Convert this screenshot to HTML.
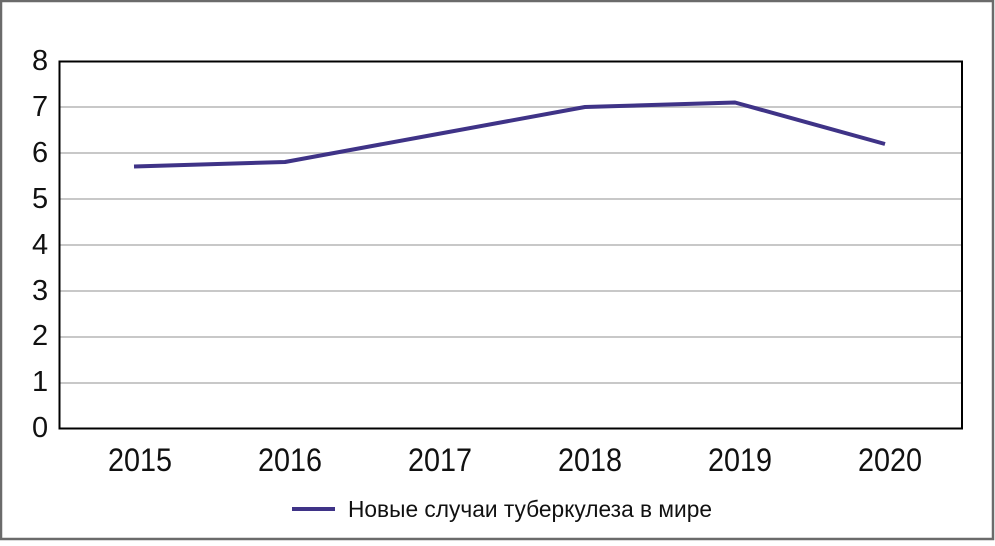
<!DOCTYPE html>
<html><head><meta charset="utf-8"><style>html,body{margin:0;padding:0;background:#fff}</style></head>
<body>
<svg width="995" height="541" viewBox="0 0 995 541" xmlns="http://www.w3.org/2000/svg" font-family="Liberation Sans, sans-serif">
<rect x="1" y="1" width="992" height="538" fill="#fff" stroke="#6b6b6b" stroke-width="2.5"/>
<g stroke="#c8c8c8" stroke-width="2">
<line x1="60" x2="962" y1="107" y2="107"/>
<line x1="60" x2="962" y1="153" y2="153"/>
<line x1="60" x2="962" y1="199" y2="199"/>
<line x1="60" x2="962" y1="245" y2="245"/>
<line x1="60" x2="962" y1="291" y2="291"/>
<line x1="60" x2="962" y1="337" y2="337"/>
<line x1="60" x2="962" y1="383" y2="383"/>
</g>
<rect x="59.5" y="61.5" width="902.5" height="367" fill="none" stroke="#000" stroke-width="2"/>
<g font-size="29" fill="#111" lengthAdjust="spacingAndGlyphs">
<text x="32" y="70" textLength="15">8</text><text x="32" y="116" textLength="15">7</text><text x="32" y="162" textLength="15">6</text>
<text x="32" y="208" textLength="15">5</text><text x="32" y="254" textLength="15">4</text><text x="32" y="300" textLength="15">3</text>
<text x="32" y="345" textLength="15">2</text><text x="32" y="391" textLength="15">1</text><text x="32" y="437" textLength="15">0</text>
</g>
<g font-size="32" fill="#111">
<text x="108" y="471" textLength="64" lengthAdjust="spacingAndGlyphs">2015</text>
<text x="258" y="471" textLength="64" lengthAdjust="spacingAndGlyphs">2016</text>
<text x="408" y="471" textLength="64" lengthAdjust="spacingAndGlyphs">2017</text>
<text x="558" y="471" textLength="64" lengthAdjust="spacingAndGlyphs">2018</text>
<text x="708" y="471" textLength="64" lengthAdjust="spacingAndGlyphs">2019</text>
<text x="858" y="471" textLength="64" lengthAdjust="spacingAndGlyphs">2020</text>
</g>
<polyline points="134,166.5 285,162 435,134.5 585,107 735,102.5 885,144" fill="none" stroke="#3f3387" stroke-width="4" stroke-linejoin="round"/>
<line x1="292" x2="335" y1="509" y2="509" stroke="#3f3387" stroke-width="4"/>
<text x="348" y="517" font-size="23" fill="#111" textLength="364" lengthAdjust="spacingAndGlyphs">Новые случаи туберкулеза в мире</text>
</svg>
</body></html>
